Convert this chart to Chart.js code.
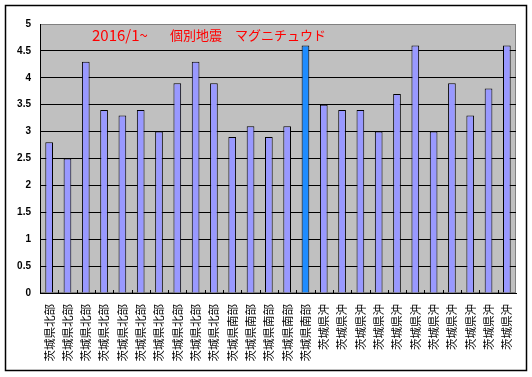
<!DOCTYPE html>
<html>
<head>
<meta charset="utf-8">
<script src="https://cdn.jsdelivr.net/npm/chart.js@4/dist/chart.umd.min.js"></script>
<style>
  body { margin: 0; background: #fff; }
  #wrap { width: 532px; height: 377px; }
</style>
</head>
<body>
<div id="wrap"><canvas id="chart" width="532" height="377"></canvas></div>
<script>
// 地域ごとの地震 (2016/1~)
const regions = [
    '茨城県北部', '茨城県北部', '茨城県北部', '茨城県北部', '茨城県北部',
    '茨城県北部', '茨城県北部', '茨城県北部', '茨城県北部', '茨城県北部',
    '茨城県南部', '茨城県南部', '茨城県南部', '茨城県南部', '茨城県南部',
    '茨城県沖', '茨城県沖', '茨城県沖', '茨城県沖', '茨城県沖', '茨城県沖',
    '茨城県沖', '茨城県沖', '茨城県沖', '茨城県沖', '茨城県沖'
];
const magnitudes = [
    2.8, 2.5, 4.3, 3.4, 3.3, 3.4, 3.0, 3.9, 4.3, 3.9,
    2.9, 3.1, 2.9, 3.1, 4.6,
    3.5, 3.4, 3.4, 3.0, 3.7, 4.6, 3.0, 3.9, 3.3, 3.8, 4.6
];
const yTicks = [0, 0.5, 1, 1.5, 2, 2.5, 3, 3.5, 4, 4.5, 5];
const titleParts = ['2016/1~', '個別地震', 'マグニチュウド'];
const highlightIndex = 14;

const jpFont = '"Noto Sans CJK JP", "Noto Sans", sans-serif';

// plot background, frame and little tick marks
const framePlugin = {
    id: 'frame',
    beforeDraw(chart) {
        const ctx = chart.ctx;
        const a = chart.chartArea;
        ctx.save();
        ctx.fillStyle = '#fff';
        ctx.fillRect(0, 0, chart.width, chart.height);
        ctx.strokeStyle = '#000';
        ctx.lineWidth = 1.5;
        ctx.strokeRect(5.5, 5.5, chart.width - 11, chart.height - 12);
        ctx.fillStyle = '#c0c0c0';
        ctx.fillRect(a.left, a.top, a.right - a.left, a.bottom - a.top);
        ctx.strokeStyle = '#808080';
        ctx.lineWidth = 1;
        ctx.strokeRect(a.left + 0.5, a.top + 0.5, a.right - a.left - 1, a.bottom - a.top - 1);
        ctx.restore();
    },
    afterDraw(chart) {
        const ctx = chart.ctx;
        const a = chart.chartArea;
        const x = chart.scales.x;
        ctx.save();
        ctx.strokeStyle = '#000';
        ctx.lineWidth = 1;
        ctx.beginPath();
        for (let i = 0; i < regions.length - 1; i++) {
            const px = Math.round((x.getPixelForTick(i) + x.getPixelForTick(i + 1)) / 2) + 0.5;
            ctx.moveTo(px, a.bottom);
            ctx.lineTo(px, a.bottom - 3);
        }
        ctx.stroke();

        // title sits inside the plot
        ctx.fillStyle = '#ff0000';
        ctx.textBaseline = 'middle';
        const ty = a.top + 11;
        const offsets = [52, 130, 195];
        const fonts = ['15px ' + jpFont, '13px ' + jpFont, '13px ' + jpFont];
        titleParts.forEach((t, i) => {
            ctx.font = fonts[i];
            ctx.fillText(t, a.left + offsets[i], ty);
        });
        ctx.restore();
    }
};

const ctx = document.getElementById('chart').getContext('2d');
new Chart(ctx, {
    type: 'bar',
    data: {
        labels: regions,
        datasets: [{
            data: magnitudes,
            backgroundColor: magnitudes.map((_, i) => i === highlightIndex ? '#1e8cff' : '#9999ff'),
            borderColor: '#000',
            borderWidth: 1,
            borderSkipped: 'bottom',
            categoryPercentage: 1,
            barPercentage: 0.42
        }]
    },
    options: {
        responsive: false,
        animation: false,
        events: [],
        layout: { padding: { left: 0, top: 24, right: 16, bottom: 0 } },
        plugins: {
            legend: { display: false },
            tooltip: { enabled: false }
        },
        scales: {
            x: {
                grid: { display: true, color: 'rgba(0,0,0,0)', drawTicks: false },
                border: { display: true, color: '#000', width: 1 },
                ticks: {
                    autoSkip: false,
                    minRotation: 90,
                    maxRotation: 90,
                    padding: 11,
                    color: '#000',
                    font: { family: jpFont, size: 11.5 }
                },
                afterFit(scale) { scale.height = 84; }
            },
            y: {
                min: 0,
                max: 5,
                afterBuildTicks(scale) { scale.ticks = yTicks.map(v => ({ value: v })); },
                grid: {
                    drawTicks: false,
                    color: c => c.tick && c.tick.value === 5 ? '#808080' : '#000',
                    lineWidth: 1
                },
                border: { display: true, color: '#000', width: 1 },
                ticks: {
                    padding: 9,
                    color: '#000',
                    font: { family: 'Liberation Sans, Arial, sans-serif', size: 10, weight: 'bold' },
                    callback: v => String(v)
                },
                afterFit(scale) { scale.width = 40; }
            }
        }
    },
    plugins: [framePlugin]
});
</script>
</body>
</html>
